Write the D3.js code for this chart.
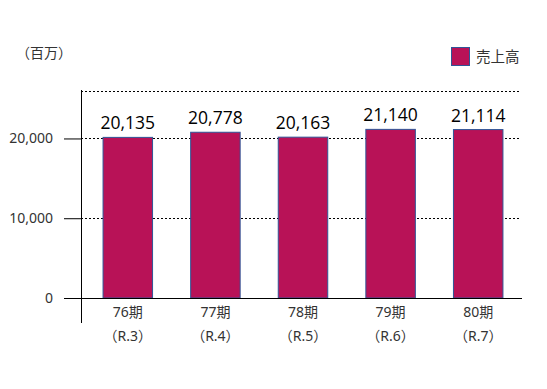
<!DOCTYPE html>
<html><head><meta charset="utf-8">
<script src="https://cdn.jsdelivr.net/npm/d3@7"></script>
<style>html,body{margin:0;padding:0;background:#fff;}</style>
</head><body>
<svg id="c" width="547" height="389"></svg>
<script>
const periods = ["76期","77期","78期","79期","80期"];
const eras = ["（R.3）","（R.4）","（R.5）","（R.6）","（R.7）"];
const sales = [20135, 20778, 20163, 21140, 21114];
const yTicks = [0, 10000, 20000];
const yMax = 26000;
const unitLabel = "（百万）";
const seriesName = "売上高";

const svg = d3.select("#c");
const jp = "'Noto Sans', 'Noto Sans CJK JP', sans-serif";
const barColor = "#B81257", barStroke = "#2F5597";

const x = d3.scaleBand().domain(periods).range([84, 522]).paddingInner(0.435).paddingOuter(0.2175);
const y = d3.scaleLinear().domain([0, yMax]).range([298, 90.6]);

// gridlines dotted
svg.append("g").selectAll("line").data(yTicks.filter(d => d > 0).concat([yMax])).join("line")
  .attr("x1", 81).attr("x2", 521).attr("y1", d => Math.round(y(d)) + 0.5).attr("y2", d => Math.round(y(d)) + 0.5)
  .attr("stroke", "#000").attr("stroke-width", 1).attr("stroke-dasharray", "2,2");

// y axis ticks (left of axis)
const yAxis = d3.axisLeft(y).tickValues(yTicks).tickSize(17).tickPadding(11).tickFormat(d3.format(","));
const ga = svg.append("g").attr("transform", "translate(81,0)").call(yAxis);
ga.select(".domain").remove();
ga.selectAll(".tick line").attr("stroke", "#000");
ga.selectAll(".tick text").attr("font-family", jp).attr("font-size", 14).attr("fill", "#333").attr("dy", "0.3em");

// bars
svg.append("g").selectAll("rect").data(sales).join("rect")
  .attr("x", (d, i) => x(periods[i])).attr("width", x.bandwidth())
  .attr("y", d => y(d)).attr("height", d => y(0) - y(d))
  .attr("fill", barColor).attr("stroke", barStroke).attr("stroke-width", 1);

// value labels
svg.append("g").selectAll("text").data(sales).join("text")
  .attr("x", (d, i) => x(periods[i]) + x.bandwidth() / 2).attr("y", d => y(d) - 8)
  .attr("text-anchor", "middle").attr("font-family", "'Open Sans', sans-serif").attr("font-size", 17.5)
  .attr("fill", "#000").text(d3.format(","));

// axes lines
svg.append("line").attr("x1", 64).attr("x2", 522).attr("y1", 298.5).attr("y2", 298.5).attr("stroke", "#000");
svg.append("line").attr("x1", 81.5).attr("x2", 81.5).attr("y1", 90).attr("y2", 323).attr("stroke", "#000");

// x labels
const xl = svg.append("g");
xl.selectAll("text.p").data(periods).join("text").attr("class", "p")
  .attr("x", d => x(d) + x.bandwidth() / 2).attr("y", 316.5)
  .attr("text-anchor", "middle").attr("font-family", jp).attr("font-size", 14).attr("fill", "#333").text(d => d);
xl.selectAll("text.e").data(eras).join("text").attr("class", "e")
  .attr("x", (d, i) => x(periods[i]) + x.bandwidth() / 2).attr("y", 340.5)
  .attr("text-anchor", "middle").attr("font-family", jp).attr("font-size", 14).attr("fill", "#333").text(d => d);

// unit label
svg.append("text").attr("x", 16).attr("y", 58).attr("font-family", jp).attr("font-size", 14).attr("fill", "#333").text(unitLabel);

// legend
svg.append("rect").attr("x", 451.5).attr("y", 47.5).attr("width", 18).attr("height", 18)
  .attr("fill", barColor).attr("stroke", barStroke);
svg.append("text").attr("x", 476).attr("y", 62).attr("font-family", jp).attr("font-size", 14.5).attr("fill", "#333").text(seriesName);
</script>
</body></html>
